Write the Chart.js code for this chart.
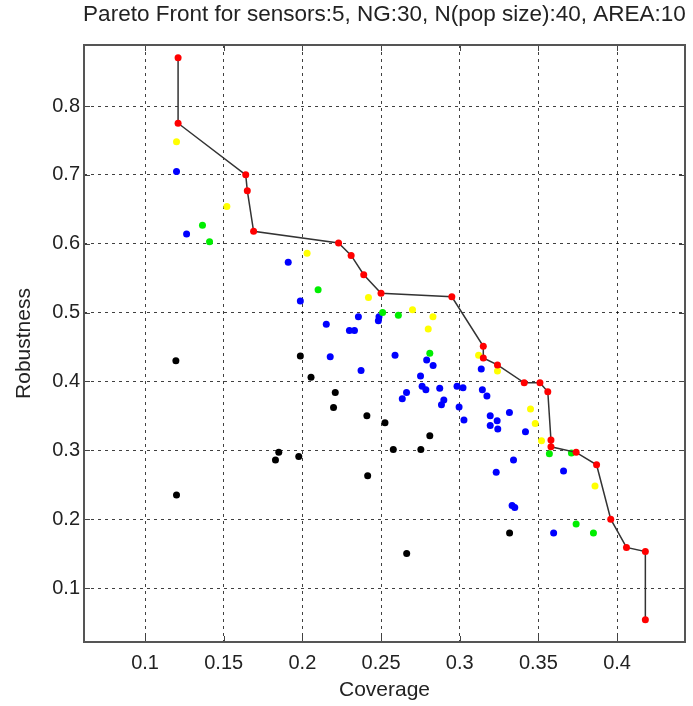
<!DOCTYPE html>
<html>
<head>
<meta charset="utf-8">
<title>Pareto Front</title>
<script src="https://cdn.jsdelivr.net/npm/chart.js@4/dist/chart.umd.min.js"></script>
<style>
  html, body { margin: 0; padding: 0; background: #fff; }
  #wrap { width: 693px; height: 706px; }
</style>
</head>
<body>
<div id="wrap"><canvas id="paretoChart" width="693" height="706"></canvas></div>
<script>
// Pareto Front scatter (MATLAB style) drawn with Chart.js

const chartTitle = 'Pareto Front for sensors:5, NG:30, N(pop size):40, AREA:10';
const xTicks = [0.1, 0.15, 0.2, 0.25, 0.3, 0.35, 0.4];
const yTicks = [0.1, 0.2, 0.3, 0.4, 0.5, 0.6, 0.7, 0.8];

// non-dominated front, in drawing order (red + connecting line)
const paretoFront = [
    [0.121, 0.870], [0.121, 0.775], [0.164, 0.700], [0.165, 0.677], [0.169, 0.618],
    [0.223, 0.601], [0.231, 0.583], [0.239, 0.555], [0.250, 0.528], [0.295, 0.523],
    [0.315, 0.451], [0.315, 0.434], [0.324, 0.424], [0.341, 0.398], [0.351, 0.398],
    [0.356, 0.385], [0.358, 0.315], [0.358, 0.305], [0.374, 0.297], [0.387, 0.279],
    [0.396, 0.200], [0.406, 0.159], [0.418, 0.153], [0.418, 0.054]
];

const yellowPts = [
    [0.120, 0.748], [0.152, 0.654], [0.203, 0.586], [0.242, 0.522], [0.270, 0.504],
    [0.283, 0.494], [0.280, 0.476], [0.312, 0.438], [0.324, 0.415], [0.345, 0.360],
    [0.348, 0.339], [0.352, 0.314], [0.386, 0.248]
];

const greenPts = [
    [0.1365, 0.627], [0.141, 0.603], [0.210, 0.533], [0.251, 0.500], [0.261, 0.496],
    [0.281, 0.441], [0.357, 0.295], [0.371, 0.296], [0.374, 0.193], [0.385, 0.180]
];

const bluePts = [
    [0.120, 0.705], [0.1264, 0.614], [0.191, 0.573], [0.1987, 0.517], [0.2152, 0.483],
    [0.2177, 0.436], [0.2299, 0.474], [0.2331, 0.474], [0.2356, 0.494], [0.2487, 0.494],
    [0.2483, 0.488], [0.2373, 0.416], [0.2589, 0.438], [0.279, 0.431], [0.2831, 0.423],
    [0.2751, 0.408], [0.2761, 0.393], [0.2785, 0.388], [0.2662, 0.384], [0.2635, 0.375],
    [0.2873, 0.390], [0.2899, 0.373], [0.2884, 0.366], [0.2983, 0.393], [0.3021, 0.391],
    [0.2996, 0.363], [0.3027, 0.344], [0.3144, 0.388], [0.3173, 0.379], [0.3137, 0.418],
    [0.3194, 0.350], [0.3238, 0.343], [0.3194, 0.336], [0.3242, 0.331], [0.3316, 0.355],
    [0.3418, 0.327], [0.3342, 0.286], [0.3232, 0.268], [0.366, 0.270], [0.3333, 0.220],
    [0.3350, 0.217], [0.3597, 0.180]
];

const blackPts = [
    [0.1196, 0.430], [0.1987, 0.437], [0.2055, 0.406], [0.2209, 0.384], [0.2198, 0.362],
    [0.185, 0.297], [0.1829, 0.286], [0.1977, 0.291], [0.120, 0.235], [0.241, 0.350],
    [0.2525, 0.340], [0.281, 0.321], [0.2578, 0.301], [0.2753, 0.301], [0.2415, 0.263],
    [0.2663, 0.150], [0.3317, 0.180]
];

const toXY = pts => pts.map(p => ({ x: p[0], y: p[1] }));

function dots(data, color, order) {
    return {
        data: toXY(data),
        showLine: false,
        pointRadius: 3.5,
        pointBorderWidth: 0,
        pointBackgroundColor: color,
        order: order
    };
}

const fontFamily = '"Liberation Sans", Arial, Helvetica, sans-serif';

// box round the plot plus inward tick marks, as MATLAB does
const matlabFrame = {
    id: 'matlabFrame',
    afterDatasetsDraw(chart) {
        const { ctx, chartArea: a, scales } = chart;
        ctx.save();
        ctx.setLineDash([]);
        ctx.strokeStyle = '#444';
        ctx.lineWidth = 1;
        ctx.beginPath();
        xTicks.forEach(v => {
            const px = Math.round(scales.x.getPixelForValue(v)) + 0.5;
            ctx.moveTo(px, a.bottom); ctx.lineTo(px, a.bottom - 6);
            ctx.moveTo(px, a.top); ctx.lineTo(px, a.top + 6);
        });
        yTicks.forEach(v => {
            const py = Math.round(scales.y.getPixelForValue(v)) + 0.5;
            ctx.moveTo(a.left, py); ctx.lineTo(a.left + 6, py);
            ctx.moveTo(a.right, py); ctx.lineTo(a.right - 6, py);
        });
        ctx.stroke();
        ctx.lineWidth = 2;
        ctx.strokeStyle = '#555';
        ctx.strokeRect(a.left, a.top, a.right - a.left, a.bottom - a.top);

        // title centred over the axes box
        ctx.fillStyle = '#222';
        ctx.font = '22.5px ' + fontFamily;
        ctx.textAlign = 'center';
        ctx.textBaseline = 'middle';
        ctx.fillText(chartTitle, (a.left + a.right) / 2, 15);
        ctx.restore();
    }
};

const gridStyle = { color: 'rgba(0,0,0,0.75)', lineWidth: 1, drawTicks: false };

new Chart(document.getElementById('paretoChart'), {
    type: 'scatter',
    data: {
        datasets: [
            {
                data: toXY(paretoFront),
                showLine: true,
                borderColor: '#333',
                borderWidth: 1.5,
                tension: 0,
                pointRadius: 3.5,
                pointBorderWidth: 0,
                pointBackgroundColor: '#ff0000',
                order: 0
            },
            dots(yellowPts, '#ffff00', 1),
            dots(greenPts, '#00ee00', 2),
            dots(bluePts, '#0000ff', 3),
            dots(blackPts, '#000000', 4)
        ]
    },
    options: {
        responsive: false,
        animation: false,
        layout: { padding: { left: 0, right: 8, top: 45, bottom: 0 } },
        plugins: {
            legend: { display: false },
            tooltip: { enabled: false },
            title: { display: false }
        },
        scales: {
            x: {
                type: 'linear',
                min: 0.0612,
                max: 0.4432,
                afterBuildTicks: s => { s.ticks = xTicks.map(v => ({ value: v })); },
                afterFit: s => { s.height = 64; },
                grid: gridStyle,
                border: { display: false, dash: [3, 4] },
                ticks: {
                    color: '#222',
                    padding: 9,
                    maxRotation: 0,
                    font: { family: fontFamily, size: 20 },
                    callback: v => String(v)
                },
                title: {
                    display: true,
                    text: 'Coverage',
                    color: '#222',
                    font: { family: fontFamily, size: 21 },
                    padding: { top: 0, bottom: 3 }
                }
            },
            y: {
                type: 'linear',
                min: 0.0216,
                max: 0.8886,
                afterBuildTicks: s => { s.ticks = yTicks.map(v => ({ value: v })); },
                afterFit: s => { s.width = 84; },
                grid: gridStyle,
                border: { display: false, dash: [3, 4] },
                ticks: {
                    color: '#222',
                    padding: 4,
                    font: { family: fontFamily, size: 20 },
                    callback: v => String(v)
                },
                title: {
                    display: true,
                    text: 'Robustness',
                    color: '#222',
                    font: { family: fontFamily, size: 21 },
                    padding: { top: 12, bottom: 0 }
                }
            }
        }
    },
    plugins: [matlabFrame]
});
</script>
</body>
</html>
